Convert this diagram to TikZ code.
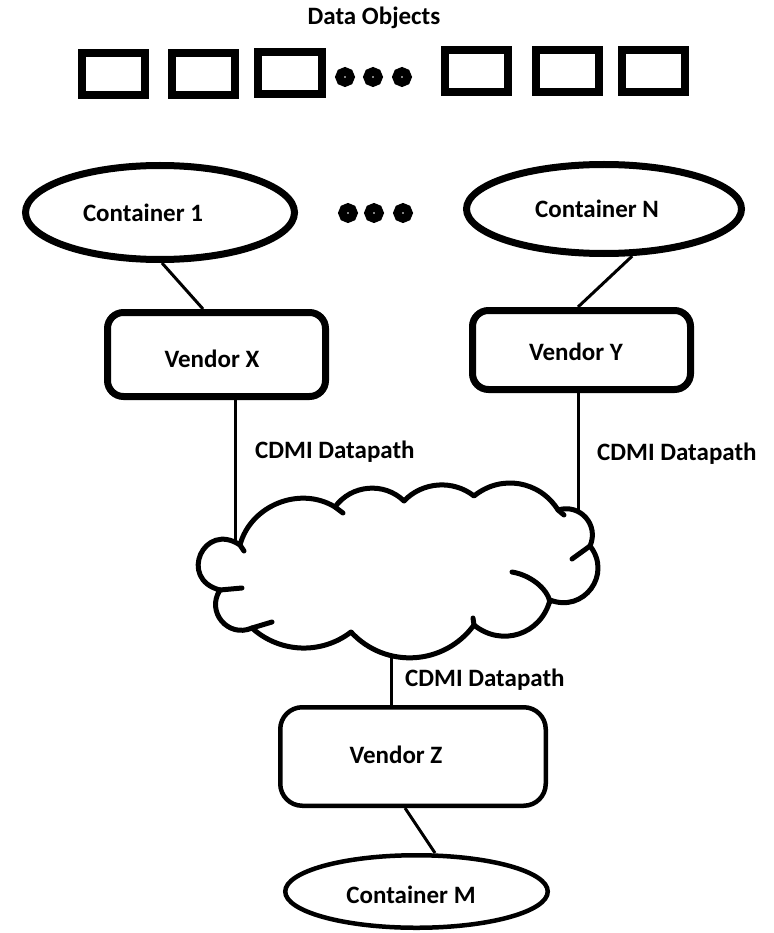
\documentclass[tikz,border=0pt]{standalone}
\usepackage{fontspec}
\setmainfont{Carlito}
\usetikzlibrary{calc,shapes.geometric}

% one puff of the cloud: a bulging arc from #1 to #2 (#3 = pull along the chord, #4 = bulge)
\newcommand\cloudlobe[4]{.. controls ($(#1)!#3!(#2)!#4!90:(#2)$) and ($(#2)!#3!(#1)!#4!-90:(#1)$) .. (#2)}

\begin{document}
\begin{tikzpicture}[x=1pt,y=-1pt,
  lbl/.style={font=\bfseries\fontsize{25}{29}\selectfont, text=black, inner sep=0pt},
  objbox/.style={draw, line width=8pt, minimum width=63pt, minimum height=42pt, inner sep=0pt},
  moredot/.style={circle, draw, fill=white, line width=8.5pt, minimum size=11pt, inner sep=0pt},
  vendorbold/.style={draw, rounded corners=16pt, line width=7pt, inner sep=0pt},
  vendorthin/.style={draw, rounded corners=22pt, line width=4.5pt, inner sep=0pt},
  contbold/.style={draw, ellipse, line width=7pt, inner sep=0pt},
  contthin/.style={draw, ellipse, line width=4.5pt, inner sep=0pt},
  link/.style={line width=3pt},
  cloudline/.style={line width=5pt, line join=round, line cap=round},
]
\useasboundingbox (0,0) rectangle (773,933);

% ---- data objects ----
\node[lbl, anchor=base] (title) at (374,25) {Data Objects};
\node[objbox] (o1) at (113.5,74) {};
\node[objbox] (o2) at (203,74) {};
\node[objbox, minimum width=64pt] (o3) at (290,73) {};
\node[moredot] (od1) at (345,77) {};
\node[moredot] (od2) at (373,77) {};
\node[moredot] (od3) at (402,77) {};
\node[objbox] (o4) at (476.5,71.5) {};
\node[objbox] (o5) at (567,71.5) {};
\node[objbox] (o6) at (653,71.5) {};

% ---- containers and vendors ----
\node[contbold, minimum width=269pt, minimum height=94pt,
      label={[lbl, xshift=-17pt]center:Container 1}] (c1) at (160,212.5) {};
\node[moredot] (cd1) at (348,213) {};
\node[moredot] (cd2) at (374,213) {};
\node[moredot] (cd3) at (403,213) {};
\node[contbold, minimum width=275pt, minimum height=89pt,
      label={[lbl, xshift=-7pt]center:Container N}] (cN) at (604,209) {};

\node[vendorbold, minimum width=218pt, minimum height=84pt,
      label={[lbl, xshift=-4.5pt, yshift=-4.5pt]center:Vendor X}] (vx) at (216.5,354.5) {};
\node[vendorbold, minimum width=218pt, minimum height=79pt,
      label={[lbl, xshift=-5.5pt, yshift=-2pt]center:Vendor Y}] (vy) at (581.5,350) {};

\node[vendorthin, minimum width=265.5pt, minimum height=98.5pt,
      label={[lbl, xshift=-17pt, yshift=1.5pt]center:Vendor Z}] (vz) at (413,756.5) {};
\node[contthin, minimum width=262.5pt, minimum height=72.5pt,
      label={[lbl, xshift=-5.5pt, yshift=-3.5pt]center:Container M}] (cM) at (416.5,891.5) {};

% ---- the cloud ----
\coordinate (J1) at (240,545);
\coordinate (J2) at (335,507);
\coordinate (J3) at (404,501);
\coordinate (J4) at (474,496);
\coordinate (J5) at (558,510);
\coordinate (J6) at (590,546);
\coordinate (J7) at (550,600);
\coordinate (J8) at (474,625);
\coordinate (J9) at (351,632);
\coordinate (J10) at (252,628);
\coordinate (J11) at (220,590);

\draw[cloudline] (J1)
  \cloudlobe{J1}{J2}{0.24}{33pt}
  \cloudlobe{J2}{J3}{0.26}{21pt}
  \cloudlobe{J3}{J4}{0.28}{18pt}
  \cloudlobe{J4}{J5}{0.27}{26pt}
  \cloudlobe{J5}{J6}{0.2}{21pt}
  \cloudlobe{J6}{J7}{0.14}{35pt}
  \cloudlobe{J7}{J8}{0.24}{30pt}
  \cloudlobe{J8}{J9}{0.26}{39pt}
  \cloudlobe{J9}{J10}{0.29}{24pt}
  \cloudlobe{J10}{J11}{0.15}{25pt}
  \cloudlobe{J11}{J1}{-0.15}{43pt} -- cycle;

% short inner strokes where the puffs overlap
\draw[cloudline] (J1) -- (244,551);
\draw[cloudline] (J2) -- (343,513);
\draw[cloudline] (J5) -- (564,515);
\draw[cloudline] (J6) -- (572,559);
\draw[cloudline] (512,572) .. controls (530,575) and (547,588) .. (550,602);
\draw[cloudline] (J8) -- (473,618);
\draw[cloudline] (J10) -- (272,622);
\draw[cloudline] (J11) -- (242,588);

\coordinate (cloudL) at (235,541);
\coordinate (cloudR) at (578,513);
\coordinate (cloudB) at (391,656);

% ---- connectors ----
\draw[link] ([xshift=2pt]c1.south) -- ([xshift=-13.5pt]vx.north);
\draw[link] (cN.-59) -- ([xshift=-3.5pt]vy.north);
\draw[link] ([xshift=18.5pt]vx.south) -- (cloudL);
\draw[link] ([xshift=-3.5pt]vy.south) -- (cloudR);
\draw[link] (cloudB) -- ([xshift=-22pt]vz.north);
\draw[link] ([xshift=-8pt]vz.south) -- ([xshift=18.5pt]cM.north);

% ---- link labels ----
\node[lbl, anchor=base west] (dpx) at (255,458) {CDMI Datapath};
\node[lbl, anchor=base west] (dpy) at (597,460) {CDMI Datapath};
\node[lbl, anchor=base west] (dpz) at (405,686) {CDMI Datapath};
\end{tikzpicture}
\end{document}
